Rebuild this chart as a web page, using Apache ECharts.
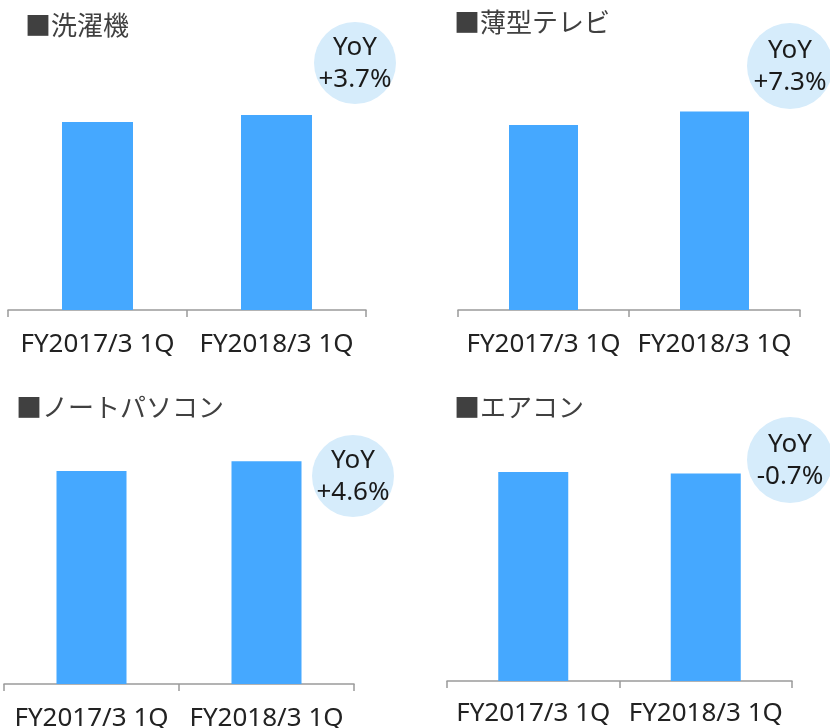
<!DOCTYPE html>
<html>
<head>
<meta charset="utf-8">
<script src="https://cdn.jsdelivr.net/npm/echarts@6/dist/echarts.min.js"></script>
<style>
html,body{margin:0;padding:0;background:#fff;}
#c{width:830px;height:728px;}
</style>
</head>
<body>
<div id="c"></div>
<script>
// Data (index: FY2017/3 1Q = 100)
const categories = ['FY2017/3 1Q', 'FY2018/3 1Q'];
const titles = ['■洗濯機', '■薄型テレビ', '■ノートパソコン', '■エアコン'];
const washerValues = [100, 103.7];
const tvValues = [100, 107.3];
const laptopValues = [100, 104.6];
const aircoValues = [100, 99.3];
const yoyLabels = ['+3.7%', '+7.3%', '+4.6%', '-0.7%'];

const seriesValues = [washerValues, tvValues, laptopValues, aircoValues];

// Layout of each panel
const panels = [
  {left: 8,   width: 358, top: 28,    height: 282,   barWidth: 71, titleX: 25,  titleY: 12,  labelMargin: 22, cx: 355, cy: 63,  r: 41},
  {left: 458, width: 342, top: 32.5,  height: 277.5, barWidth: 69, titleX: 454, titleY: 9,   labelMargin: 22, cx: 790, cy: 66,  r: 43},
  {left: 4,   width: 350, top: 364.5, height: 319.5, barWidth: 70, titleX: 16,  titleY: 394, labelMargin: 22, cx: 353, cy: 476, r: 41},
  {left: 447, width: 345, top: 367.5, height: 313.5, barWidth: 70, titleX: 454, titleY: 394, labelMargin: 20, cx: 790, cy: 460, r: 43}
];

const BAR = '#45A8FF';
const AXIS = '#9a9a9a';
const CIRCLE = '#D6ECFB';
const FONT = '"Noto Sans", "Noto Sans CJK JP", sans-serif';

const option = {
  animation: false,
  backgroundColor: '#ffffff',
  title: panels.map((p, i) => ({
    text: titles[i],
    left: p.titleX,
    top: p.titleY,
    padding: 0,
    textStyle: {fontFamily: '"Noto Sans CJK JP", sans-serif', fontSize: 26, fontWeight: 'normal', color: '#404040'}
  })),
  grid: panels.map(p => ({left: p.left, width: p.width, top: p.top, height: p.height, containLabel: false, outerBoundsMode: 'none'})),
  xAxis: panels.map((p, i) => ({
    type: 'category',
    gridIndex: i,
    data: categories,
    boundaryGap: true,
    axisLine: {show: true, lineStyle: {color: AXIS, width: 1.5}},
    axisTick: {show: true, inside: false, length: 7, alignWithLabel: false, lineStyle: {color: AXIS, width: 1.5}},
    axisLabel: {show: true, interval: 0, margin: p.labelMargin, fontFamily: FONT, fontSize: 26, color: '#222222'}
  })),
  yAxis: panels.map((p, i) => ({
    type: 'value',
    gridIndex: i,
    min: 0,
    max: 150,
    show: false,
    splitLine: {show: false}
  })),
  series: panels.map((p, i) => ({
    type: 'bar',
    xAxisIndex: i,
    yAxisIndex: i,
    data: seriesValues[i],
    barWidth: p.barWidth,
    itemStyle: {color: BAR},
    silent: true
  })),
  graphic: panels.flatMap((p, i) => ([
    {type: 'circle', shape: {cx: p.cx, cy: p.cy, r: p.r}, style: {fill: CIRCLE}, z: 10},
    {type: 'text', x: p.cx, y: p.cy - 15, style: {text: 'YoY', fill: '#1a1a1a', font: '26px ' + FONT, textAlign: 'center', textVerticalAlign: 'middle'}, z: 11},
    {type: 'text', x: p.cx, y: p.cy + 17, style: {text: yoyLabels[i], fill: '#1a1a1a', font: '26px ' + FONT, textAlign: 'center', textVerticalAlign: 'middle'}, z: 11}
  ]))
};

const chart = echarts.init(document.getElementById('c'), null, {renderer: 'canvas'});
chart.setOption(option);
</script>
</body>
</html>
